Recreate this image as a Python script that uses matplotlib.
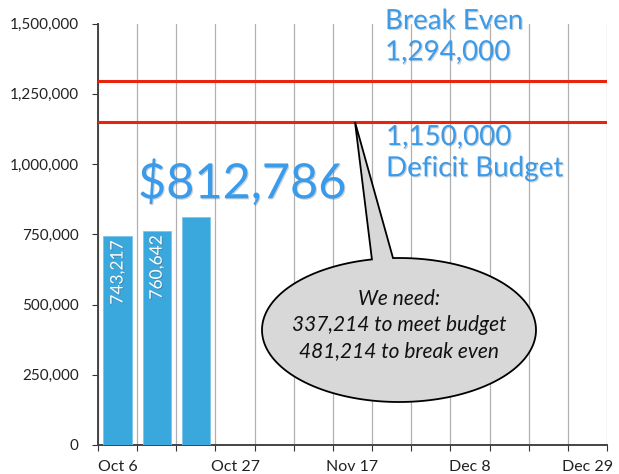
import numpy as np
import matplotlib
matplotlib.use("Agg")
import matplotlib.pyplot as plt
from matplotlib.path import Path
from matplotlib.patches import PathPatch
import matplotlib.patheffects as pe

plt.rcParams['font.family'] = ['Lato', 'DejaVu Sans']

# ---- data ----
weeks = ["Oct 6", "Oct 13", "Oct 20", "Oct 27", "Nov 3", "Nov 10", "Nov 17",
         "Nov 24", "Dec 1", "Dec 8", "Dec 15", "Dec 22", "Dec 29"]
shown_labels = ["Oct 6", "Oct 27", "Nov 17", "Dec 8", "Dec 29"]
raised = [743217, 760642, 812786]
bar_labels = ["743,217", "760,642", None]
budget = 1150000
break_even = 1294000
yticks = [0, 250000, 500000, 750000, 1000000, 1250000, 1500000]
callout_lines = ["We need:", "337,214 to meet budget", "481,214 to break even"]

W, H = 619, 474
fig = plt.figure(figsize=(W / 100, H / 100), dpi=100)
ax = fig.add_axes([98 / W, 1 - 445 / H, 509 / W, (445 - 23.5) / H])

x = np.arange(len(raised))
ax.bar(x, raised, width=0.72, color='#3aa7dd', edgecolor='#7cc6ea', linewidth=0.6, zorder=3)

for xi, v, lab in zip(x, raised, bar_labels):
    if lab:
        ax.text(xi, v - 15000, lab, rotation=90, ha='center', va='top', color='white',
                fontsize=12.5, zorder=4,
                path_effects=[pe.withSimplePatchShadow(offset=(0.7, -0.7), alpha=0.35)])

ax.axhline(break_even, color='#e8250c', lw=2.2, zorder=4)
ax.axhline(budget, color='#e8250c', lw=2.2, zorder=4)

ax.set_xlim(-0.5, len(weeks) - 0.5)
ax.set_ylim(0, 1500000)
ax.set_yticks(yticks)
ax.set_yticklabels([f"{t:,}" for t in yticks], fontsize=11, color='#222222')

ax.set_xticks(np.arange(-0.5, len(weeks)), minor=False)
ax.set_xticklabels([])
pos = [weeks.index(l) for l in shown_labels]
ax.set_xticks(pos, minor=True)
ax.set_xticklabels(shown_labels, minor=True, fontsize=11.5, color='#222222')
ax.tick_params(axis='x', which='minor', length=0, pad=11)
ax.tick_params(axis='x', which='major', length=4, direction='out', color='#333333')
ax.tick_params(axis='y', length=4, direction='out', color='#333333', pad=10)
ax.grid(axis='x', which='major', color='#b0b0b0', lw=0.9, zorder=0)
for s in ['top', 'right']:
    ax.spines[s].set_visible(False)
for s in ['left', 'bottom']:
    ax.spines[s].set_color('#444444')
    ax.spines[s].set_linewidth(1.4)

blue = '#3a9bea'
shadow = [pe.withSimplePatchShadow(offset=(0.8, -0.8), alpha=0.22)]
fig.text(138 / W, 1 - 183 / H, "$" + f"{raised[-1]:,}", fontsize=35, color=blue,
         ha='left', va='center', path_effects=shadow)
fig.text(385 / W, 1 - 8 / H, "Break Even\n" + f"{break_even:,}", fontsize=20,
         color=blue, ha='left', va='top', linespacing=1.25, path_effects=shadow)
fig.text(386 / W, 1 - 124 / H, f"{budget:,}" + "\nDeficit Budget", fontsize=20,
         color=blue, ha='left', va='top', linespacing=1.25, path_effects=shadow)

# callout bubble (ellipse + tail as one path) in figure fraction coords
cx, cy = 399 / W, 1 - 330 / H
a, b = 137 / W, 72 / H
t0 = np.deg2rad(101.4)
t1 = np.deg2rad(92.5 + 360)
ts = np.linspace(t0, t1, 200)
pts = [(cx + a * np.cos(t), cy + b * np.sin(t)) for t in ts]
tip = (355 / W, 1 - 122 / H)
pts.append(tip)
pts.append(pts[0])
codes = [Path.MOVETO] + [Path.LINETO] * (len(pts) - 2) + [Path.CLOSEPOLY]
bubble = PathPatch(Path(pts, codes), facecolor='#d8d8d8', edgecolor='black', lw=1.3,
                   transform=fig.transFigure, zorder=5)
fig.patches.append(bubble)
fig.text(cx, 1 - 325 / H, "\n".join(callout_lines), fontsize=15, style='italic',
         ha='center', va='center', linespacing=1.35, color='#111111', zorder=6)

fig.savefig("out.png", dpi=100)
